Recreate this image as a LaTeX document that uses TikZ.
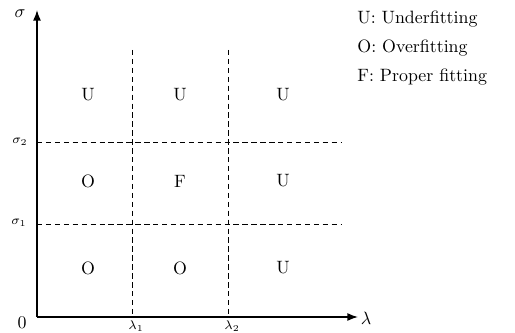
\documentclass[tikz,border=0pt]{standalone}
\usetikzlibrary{arrows.meta}
\begin{document}
\begin{tikzpicture}[x=0.56pt,y=-0.56pt,
  axis/.style={line width=0.8pt,-{Latex[length=6pt,width=4.5pt]}},
  grid/.style={dashed,line width=0.45pt,dash pattern=on 3pt off 2pt},
  cell/.style={inner sep=0pt},
  small/.style={font=\scriptsize,inner sep=0pt},
  legend/.style={anchor=west,inner sep=0pt}]
\useasboundingbox (0,0) rectangle (515,333);
\coordinate (O) at (37,317);
\coordinate (ytip) at (37,10);
\coordinate (xtip) at (358,317);
\draw[axis] (O) -- (ytip);
\draw[axis] (O) -- (xtip);
\coordinate (v1t) at (132,50); \coordinate (v1b) at (132,317);
\coordinate (v2t) at (228,50); \coordinate (v2b) at (228,317);
\coordinate (h1l) at (37,224); \coordinate (h1r) at (342,224);
\coordinate (h2l) at (37,142); \coordinate (h2r) at (342,142);
\draw[grid] (v1t) -- (v1b);
\draw[grid] (v2t) -- (v2b);
\draw[grid] (h1l) -- (h1r);
\draw[grid] (h2l) -- (h2r);
\node[inner sep=0pt] (sig) at (20,14) {$\sigma$};
\node[inner sep=0pt] (lam) at (366,318) {$\lambda$};
\node[inner sep=0pt] (zero) at (22,323) {0};
\node[small] (s2) at (20,142) {$\sigma_2$};
\node[small] (s1) at (19,223) {$\sigma_1$};
\node[small] (l1) at (136,326) {$\lambda_1$};
\node[small] (l2) at (232,326) {$\lambda_2$};
\node[cell] (a1) at (88,95) {U};
\node[cell] (a2) at (180,95) {U};
\node[cell] (a3) at (283,95) {U};
\node[cell] (b1) at (88,181) {O};
\node[cell] (b2) at (180,181) {F};
\node[cell] (b3) at (283,181) {U};
\node[cell] (c1) at (88,268) {O};
\node[cell] (c2) at (180,268) {O};
\node[cell] (c3) at (283,268) {U};
\node[legend] (lu) at (357,19) {U: Underfitting};
\node[legend] (lo) at (357,48) {O: Overfitting};
\node[legend] (lf) at (357,77) {F: Proper fitting};
\end{tikzpicture}
\end{document}
